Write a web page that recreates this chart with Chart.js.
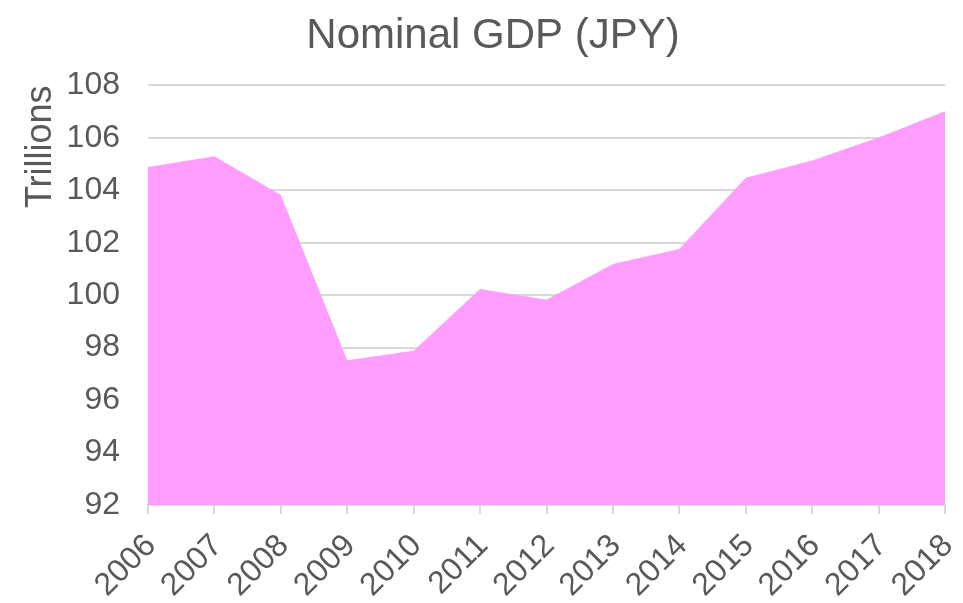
<!DOCTYPE html>
<html>
<head>
<meta charset="utf-8">
<script src="https://cdn.jsdelivr.net/npm/chart.js@4/dist/chart.umd.min.js"></script>
<style>
  html, body { margin: 0; padding: 0; background: #fff; }
  #wrap { width: 963px; height: 603px; }
</style>
</head>
<body>
<div id="wrap"><canvas id="gdpChart"></canvas></div>
<script>
const years = ['2006', '2007', '2008', '2009', '2010', '2011', '2012', '2013', '2014', '2015', '2016', '2017', '2018'];
const gdpTrillions = [104.89, 105.30, 103.82, 97.52, 97.88, 100.24, 99.83, 101.19, 101.76, 104.48, 105.14, 106.01, 107.01];
const yTicks = [92, 94, 96, 98, 100, 102, 104, 106, 108];

const textColor = '#595959';
const font = 'Liberation Sans, Arial, sans-serif';

new Chart(document.getElementById('gdpChart'), {
    type: 'line',
    data: {
        labels: years,
        datasets: [{
            label: 'Nominal GDP',
            data: gdpTrillions,
            fill: 'start',
            backgroundColor: '#FF9EFF',
            borderWidth: 0,
            pointRadius: 0,
            tension: 0
        }]
    },
    options: {
        responsive: true,
        maintainAspectRatio: false,
        animation: false,
        // left padding is wider so the chart title centres over the plot like the original
        layout: { padding: { left: 41, right: 18, top: 11, bottom: 0 } },
        plugins: {
            legend: { display: false },
            tooltip: { enabled: false },
            title: {
                display: true,
                text: 'Nominal GDP (JPY)',
                color: textColor,
                font: { family: font, size: 42, weight: 'normal' },
                padding: { top: 0, bottom: 24 }
            }
        },
        scales: {
            x: {
                offset: false,
                grid: { drawOnChartArea: false, drawTicks: true, tickLength: 9, color: '#D9D9D9', lineWidth: 2 },
                border: { color: '#D9D9D9', width: 2 },
                ticks: {
                    color: textColor,
                    font: { family: font, size: 32 },
                    maxRotation: 45,
                    minRotation: 45,
                    padding: 13,
                    labelOffset: 3
                },
                afterFit: axis => {
                    // labels may spill past the plot; keep the plot box where the original has it
                    axis.height = 98;
                    axis.paddingLeft = 0;
                    axis.paddingRight = 0;
                }
            },
            y: {
                min: yTicks[0],
                max: yTicks[yTicks.length - 1],
                afterBuildTicks: axis => { axis.ticks = yTicks.map(v => ({ value: v })); },
                afterFit: axis => { axis.width = 107; },
                grid: { color: '#D9D9D9', lineWidth: 2, drawTicks: false },
                border: { display: false },
                ticks: {
                    color: textColor,
                    font: { family: font, size: 32 },
                    padding: 28
                },
                title: {
                    display: true,
                    text: 'Trillions',
                    align: 'end',
                    color: textColor,
                    font: { family: font, size: 36 },
                    padding: { top: -22, bottom: 0 }
                }
            }
        }
    }
});
</script>
</body>
</html>
